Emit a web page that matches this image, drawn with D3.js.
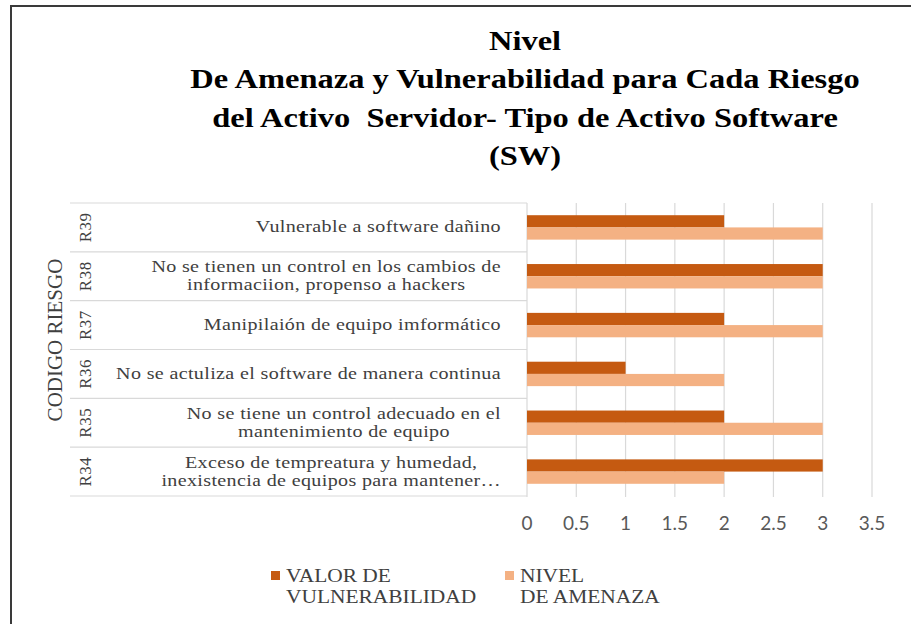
<!DOCTYPE html>
<html>
<head>
<meta charset="utf-8">
<script src="https://cdn.jsdelivr.net/npm/d3@7"></script>
<style>
  body { margin: 0; background: #fff; }
  svg { display: block; }
</style>
</head>
<body>
<svg id="chart" width="911" height="624"></svg>
<script>
// data, top row first
let codes = ['R39', 'R38', 'R37', 'R36', 'R35', 'R34'];
let descriptions = [
    ['Vulnerable a software dañino'],
    ['No se tienen un control en los cambios de', 'informaciion, propenso a hackers'],
    ['Manipilaión de equipo imformático'],
    ['No se actuliza el software de manera continua'],
    ['No se tiene un control adecuado en el', 'mantenimiento de equipo'],
    ['Exceso de tempreatura y humedad,', 'inexistencia de equipos para mantener…']
];
let seriesNames = ['VALOR DE VULNERABILIDAD', 'NIVEL DE AMENAZA'];
let legendLines = [['VALOR DE', 'VULNERABILIDAD'], ['NIVEL', 'DE AMENAZA']];
let vulnerabilidad = [2, 3, 2, 1, 2, 3];
let amenaza = [3, 3, 3, 2, 3, 2];
let xTicks = [0, 0.5, 1, 1.5, 2, 2.5, 3, 3.5];
let titleLines = ['Nivel', 'De Amenaza y Vulnerabilidad para Cada Riesgo', 'del Activo  Servidor- Tipo de Activo Software', '(SW)'];

let colors = ['#C55A11', '#F4B183'];
let serif = 'Liberation Serif';

let svg = d3.select('#chart');

// outer frame (only top and left edges show in the picture)
svg.append('rect')
    .attr('x', 11).attr('y', 6)
    .attr('width', 910).attr('height', 640)
    .attr('fill', '#fff')
    .attr('stroke', '#3a3a3a')
    .attr('stroke-width', 2);

// title - the picture's type is a little stretched sideways
let title = svg.append('g')
    .attr('transform', 'translate(525,0) scale(1.16,1)')
    .append('text')
    .style('font-family', serif)
    .style('font-weight', 'bold')
    .style('font-size', '28px')
    .style('white-space', 'pre')
    .attr('text-anchor', 'middle')
    .attr('fill', '#000');
titleLines.forEach((t, i) => {
    title.append('tspan')
        .attr('x', 0)
        .attr('y', 50 + i * 38.5)
        .text(t);
});

let x = d3.scaleLinear().domain([0, 3.5]).range([527, 872]);
let y = d3.scaleBand().domain(codes).range([203, 496]).paddingInner(0.5).paddingOuter(0.25);
let sub = d3.scaleBand().domain(seriesNames).range([0, y.bandwidth()]);
let step = y.step();

// vertical gridlines
svg.append('g')
    .selectAll('line')
    .data(xTicks)
    .join('line')
    .attr('x1', d => x(d)).attr('x2', d => x(d))
    .attr('y1', 203).attr('y2', 497)
    .attr('stroke', '#d9d9d9')
    .attr('stroke-width', 1.2);

// row separators in the label area
let bounds = codes.map(c => y(c) - step * 0.25).concat([y(codes[codes.length - 1]) + y.bandwidth() + step * 0.25]);
svg.append('g')
    .selectAll('line')
    .data(bounds)
    .join('line')
    .attr('x1', 70).attr('x2', 527)
    .attr('y1', d => d).attr('y2', d => d)
    .attr('stroke', '#d9d9d9')
    .attr('stroke-width', 1.2);

// bars
let rows = codes.map((c, i) => ({ code: c, values: [vulnerabilidad[i], amenaza[i]] }));
let groups = svg.append('g')
    .selectAll('g')
    .data(rows)
    .join('g')
    .attr('transform', d => `translate(0,${y(d.code)})`);

groups.selectAll('rect')
    .data(d => d.values.map((v, j) => ({ name: seriesNames[j], value: v, j: j })))
    .join('rect')
    .attr('x', x(0))
    .attr('y', d => sub(d.name))
    .attr('width', d => x(d.value) - x(0))
    .attr('height', sub.bandwidth())
    .attr('fill', d => colors[d.j]);

// code labels (rotated)
svg.append('g')
    .selectAll('text')
    .data(codes)
    .join('text')
    .style('font-family', serif)
    .style('font-size', '17px')
    .style('letter-spacing', '0.5px')
    .attr('transform', d => `translate(91,${y(d) + y.bandwidth() / 2}) rotate(-90)`)
    .attr('text-anchor', 'middle')
    .attr('fill', '#404040')
    .text(d => d);

// description labels: lines centred inside a box that is right-aligned
let descRight = 501;
let descStretch = 1.18;
let descG = svg.append('g')
    .attr('transform', `translate(${descRight},0) scale(${descStretch},1)`);
codes.forEach((c, i) => {
    let lines = descriptions[i];
    let cy = y(c) + y.bandwidth() / 2;
    let t = descG.append('text')
        .style('font-family', serif)
        .style('font-size', '17px')
        .style('letter-spacing', '0.3px')
        .attr('fill', '#404040')
        .attr('text-anchor', 'middle');
    let spans = lines.map((l, k) => t.append('tspan')
        .attr('y', cy + 5 + (k - (lines.length - 1) / 2) * 18)
        .text(l));
    let w = d3.max(spans, s => s.node().getComputedTextLength());
    spans.forEach(s => s.attr('x', -w / 2));
});

// axis title
svg.append('text')
    .style('font-family', serif)
    .style('font-size', '21px')
    .attr('transform', 'translate(62,340) rotate(-90)')
    .attr('text-anchor', 'middle')
    .attr('fill', '#404040')
    .text('CODIGO RIESGO');

// x tick labels
svg.append('g')
    .selectAll('text')
    .data(xTicks)
    .join('text')
    .style('font-family', 'Lato')
    .style('font-size', '19px')
    .attr('x', d => x(d))
    .attr('y', 530)
    .attr('text-anchor', 'middle')
    .attr('fill', '#595959')
    .text(d => d);

// legend
let legendX = [271, 505];
legendLines.forEach((lines, j) => {
    svg.append('rect')
        .attr('x', legendX[j]).attr('y', 571)
        .attr('width', 9).attr('height', 9)
        .attr('fill', colors[j]);
    let t = svg.append('g')
        .attr('transform', `translate(${legendX[j] + 15},0) scale(1.19,1)`)
        .append('text')
        .style('font-family', serif)
        .style('font-size', '18px')
        .attr('fill', '#404040');
    lines.forEach((l, k) => {
        t.append('tspan')
            .attr('x', 0)
            .attr('y', 582 + k * 21)
            .text(l);
    });
});
</script>
</body>
</html>
